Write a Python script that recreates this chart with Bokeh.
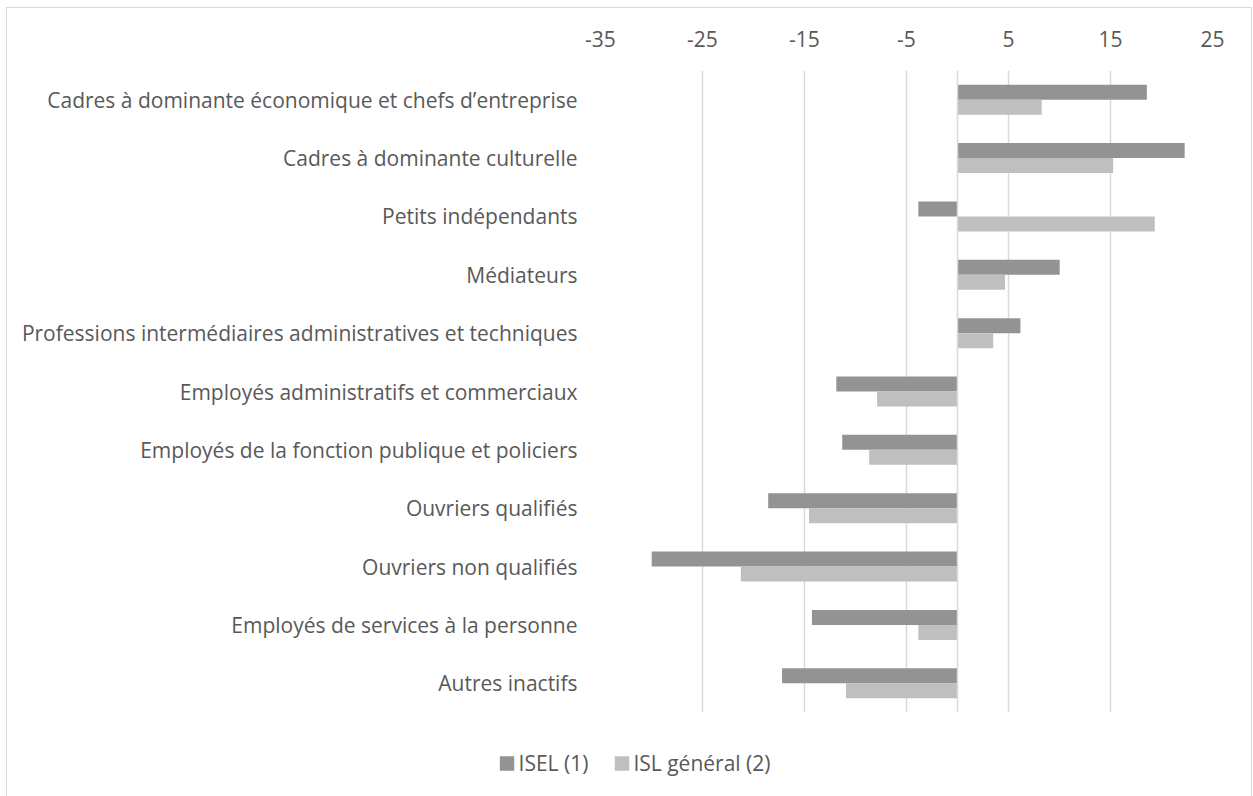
from bokeh.plotting import figure
from bokeh.layouts import column
from bokeh.models import FactorRange, Range1d, FixedTicker, Span, Legend, LegendItem
from bokeh.transform import dodge
from bokeh.embed import file_html
from bokeh.resources import INLINE

categories = [
    "Cadres à dominante économique et chefs d’entreprise",
    "Cadres à dominante culturelle",
    "Petits indépendants",
    "Médiateurs",
    "Professions intermédiaires administratives et techniques",
    "Employés administratifs et commerciaux",
    "Employés de la fonction publique et policiers",
    "Ouvriers qualifiés",
    "Ouvriers non qualifiés",
    "Employés de services à la personne",
    "Autres inactifs",
]
isel = [18.56, 22.27, -3.84, 10.02, 6.17, -11.88, -11.30, -18.56, -29.98, -14.27, -17.2]
isl_general = [8.25, 15.26, 19.34, 4.66, 3.5, -7.88, -8.66, -14.56, -21.24, -3.84, -10.93]
series_names = ["ISEL (1)", "ISL général (2)"]
series_colors = ["#939393", "#bfbfbf"]
x_ticks = [-35, -25, -15, -5, 5, 15, 25]

FONT = "Open Sans"
TXT = "#595959"
GRID = "#d9d9d9"
FS = "21px"

p = figure(
    width=1244, height=722,
    y_range=FactorRange(*reversed(categories)),
    x_range=Range1d(-35, 25),
    x_axis_location="above",
    output_backend="svg", toolbar_location=None,
    min_border_left=593, min_border_right=39,
    min_border_top=62, min_border_bottom=18,
)
p.outline_line_color = None

src = dict(cat=categories, isel=isel, isl=isl_general)
bh = 0.257
p.hbar(y=dodge("cat", bh / 2, range=p.y_range), left=0, right="isel", height=bh,
       source=src, fill_color=series_colors[0], line_color=None)
p.hbar(y=dodge("cat", -bh / 2, range=p.y_range), left=0, right="isl", height=bh,
       source=src, fill_color=series_colors[1], line_color=None)

p.add_layout(Span(location=0, dimension="height", line_color=GRID, line_width=1.5), "center")

xa = p.xaxis[0]
xa.ticker = FixedTicker(ticks=x_ticks)
xa.major_label_overrides = {t: str(t) for t in x_ticks}
xa.axis_line_color = None
xa.major_tick_line_color = None
xa.minor_tick_line_color = None
xa.major_label_text_font = FONT
xa.major_label_text_font_size = FS
xa.major_label_text_color = TXT
xa.major_label_standoff = 18

ya = p.yaxis[0]
ya.axis_line_color = None
ya.major_tick_line_color = None
ya.minor_tick_line_color = None
ya.major_label_text_font = FONT
ya.major_label_text_font_size = FS
ya.major_label_text_color = TXT
ya.major_label_standoff = 17

p.xgrid.grid_line_color = GRID
p.xgrid.grid_line_width = 1.5
p.ygrid.grid_line_color = None

# legend strip below the chart
leg = figure(
    width=1244, height=66,
    x_range=Range1d(0, 1), y_range=Range1d(0, 1),
    x_axis_location=None, y_axis_location=None,
    output_backend="svg", toolbar_location=None,
    min_border_left=10, min_border_right=0, min_border_top=0, min_border_bottom=0,
)
leg.frame_align = False
leg.outline_line_color = None
leg.grid.visible = False
# zero-size proxies that only carry the series colours for the legend swatches
e1 = leg.hbar(y=[0], left=[0], right=[0], height=0, fill_color=series_colors[0], line_color=None)
e2 = leg.hbar(y=[0], left=[0], right=[0], height=0, fill_color=series_colors[1], line_color=None)

lg = Legend(items=[LegendItem(label=series_names[0], renderers=[e1]),
                   LegendItem(label=series_names[1], renderers=[e2])])
lg.location = "center"
lg.orientation = "horizontal"
lg.background_fill_alpha = 0
lg.border_line_color = None
lg.padding = 0
lg.margin = 0
lg.spacing = 24
lg.glyph_width = 18
lg.glyph_height = 18
lg.label_height = 18
lg.label_standoff = 3
lg.label_text_font = FONT
lg.label_text_font_size = FS
lg.label_text_color = TXT
leg.add_layout(lg, "center")

layout = column(p, leg, spacing=0,
                styles={"margin-left": "7px", "margin-top": "8px",
                        "outline": "1px solid #d9d9d9"})

open("out.html", "w").write(file_html(layout, INLINE))
